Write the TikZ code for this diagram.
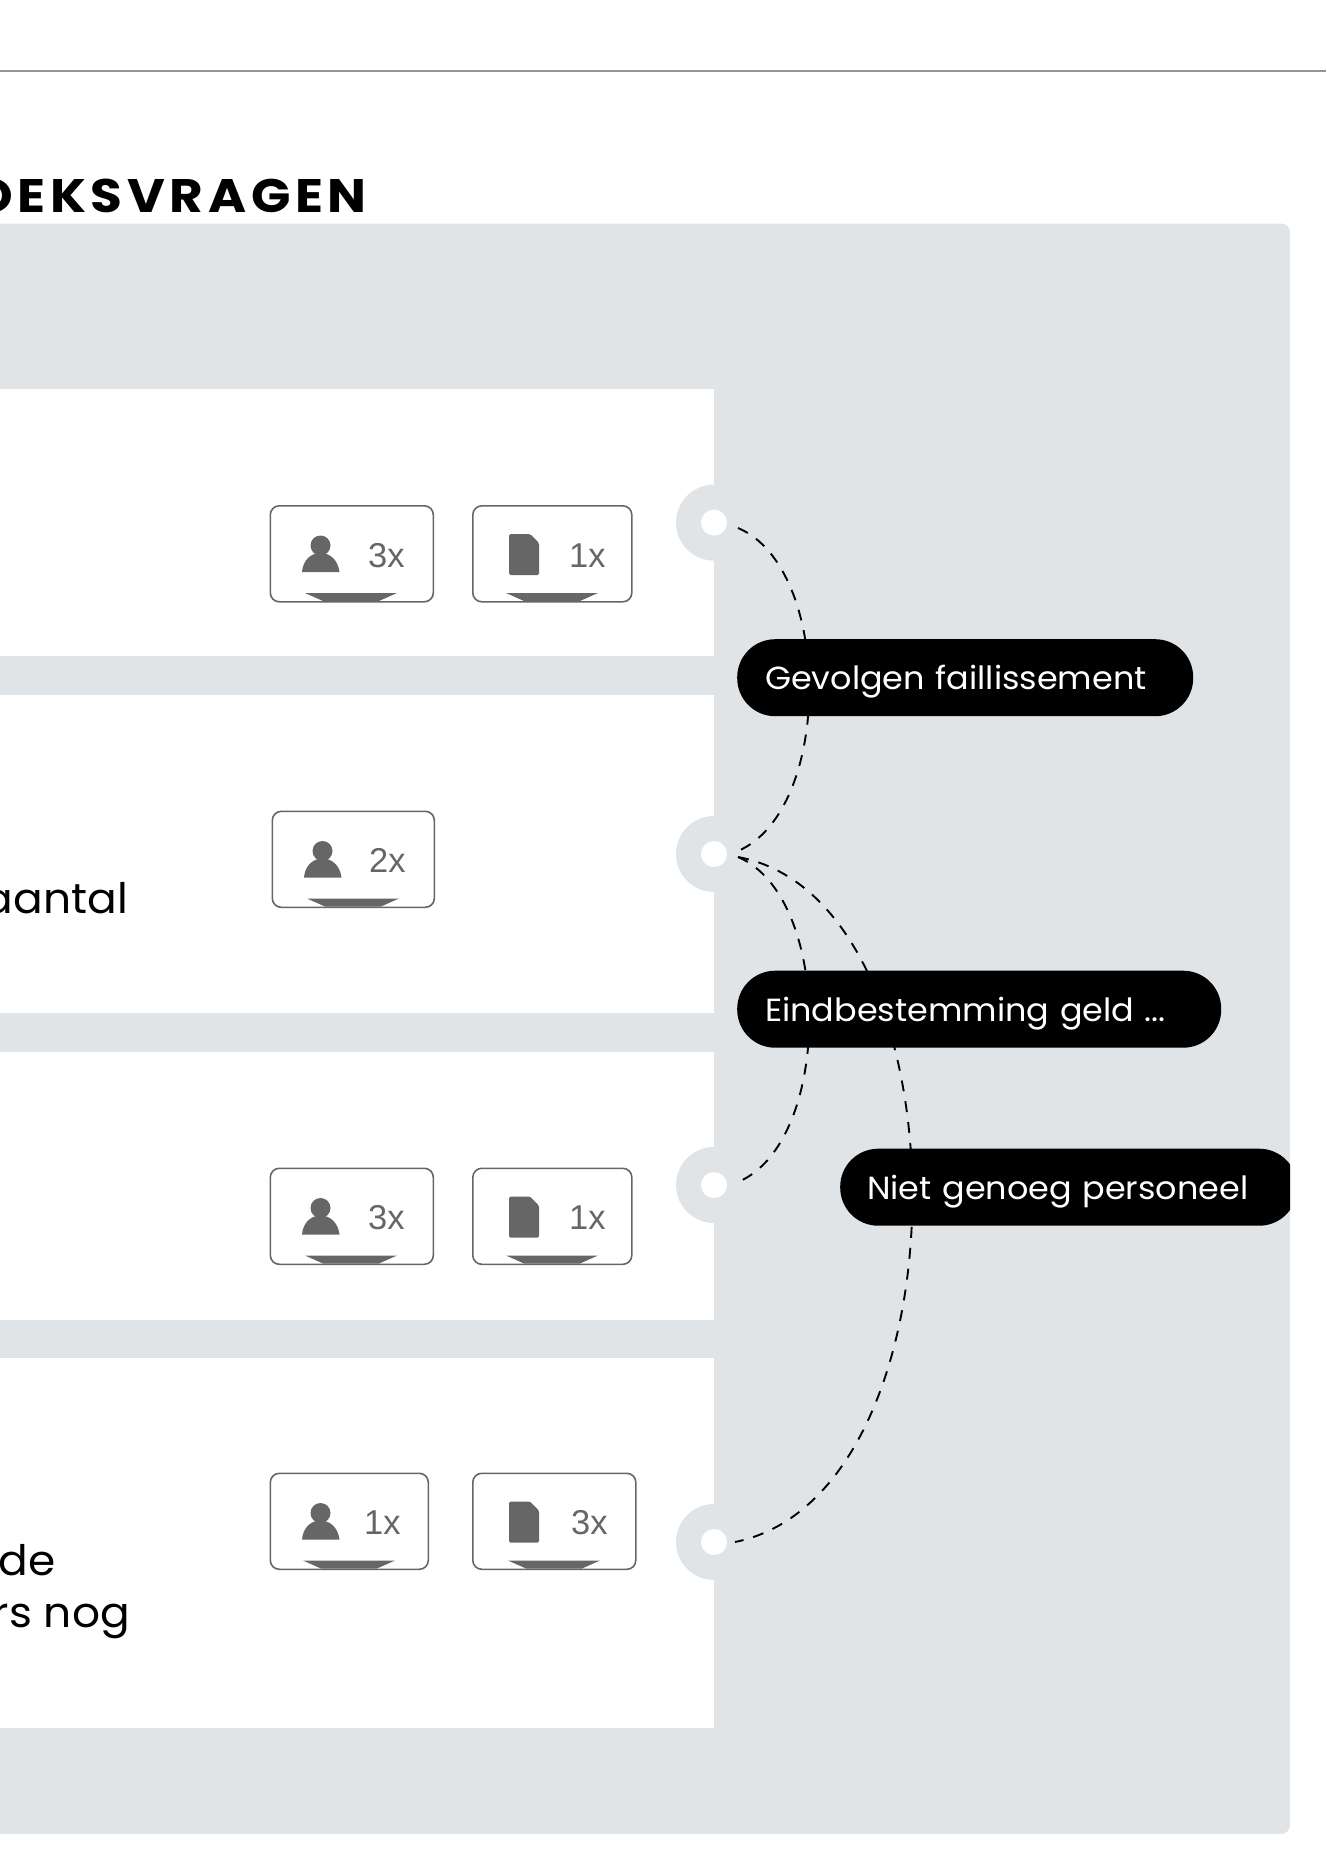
\documentclass[tikz,border=0pt]{standalone}
\usepackage{fontspec}
\setmainfont{Poppins}
\newfontfamily\titlefont[LetterSpace=10,FakeStretch=1.1]{Poppins}
\newfontfamily\pillfont[FakeStretch=1.045]{Poppins}
\newfontfamily\numfont{Liberation Sans}
\usetikzlibrary{calc}
\definecolor{panelc}{HTML}{E1E4E7}
\definecolor{iconc}{HTML}{666666}
\tikzset{
  x=1pt,y=-1pt,
  halo/.style={circle,fill=panelc,minimum size=76pt,inner sep=0pt},
  hole/.style={circle,fill=white,minimum size=26pt,inner sep=0pt},
  card/.style={fill=white},
  badge/.style={draw=iconc,line width=1.6pt,rounded corners=9pt,fill=white,inner sep=0pt,anchor=north west},
  icon/.style={fill=iconc},
  count/.style={anchor=base west,inner sep=0pt,text=iconc,font=\numfont\fontsize{34.5}{36}\selectfont},
  pill/.style={fill=black,text=white,rounded corners=38pt,minimum height=77pt,inner ysep=0pt,inner xsep=28pt,
     anchor=north west,align=left,text height=28pt,text depth=4pt,font=\pillfont\fontsize{32}{36}\selectfont},
  link/.style={draw=black,line width=1.9pt,dash pattern=on 11pt off 10pt},
  body/.style={anchor=base east,inner sep=0pt,text=black,font=\pillfont\fontsize{42}{50}\selectfont},
}
\newcommand{\personicon}[2]{%
  \fill[icon] (#1+18.5,#2+40.5) circle (10);
  \fill[icon] (#1,#2+67) .. controls (#1+1,#2+55) and (#1+9,#2+48) .. (#1+18.5,#2+48)
     .. controls (#1+28,#2+48) and (#1+36,#2+55) .. (#1+37.5,#2+67) -- cycle;
}
\newcommand{\docicon}[2]{%
  \fill[icon,rounded corners=1.5pt] (#1,#2+29) -- (#1+21,#2+29) -- (#1+30,#2+38) -- (#1+30,#2+70) -- (#1,#2+70) -- cycle;
}
\newcommand{\wedgemark}[2]{%
  \fill[icon] (#1-46,#2+88) -- (#1+46,#2+88) -- (#1+28,#2+96) -- (#1-28,#2+96) -- cycle;
}
\begin{document}
\begin{tikzpicture}
\useasboundingbox (0,0) rectangle (1326,1854);
\clip (0,0) rectangle (1326,1854);
\fill[white] (0,0) rectangle (1326,1854);
% top rule
\coordinate (ruleL) at (0,71);
\coordinate (ruleR) at (1326,71);
\draw[color=black!42,line width=1.5pt] (ruleL) -- (ruleR);
% title
\node[anchor=base east,inner sep=0pt,font=\titlefont\bfseries\fontsize{47}{50}\selectfont] (title) at (367,212) {OEKSVRAGEN};
% panel
\fill[panelc,rounded corners=9pt] (-30,223.5) rectangle (1290,1834);
% cards
\fill[card] (-5,389) rectangle (714,656);
\fill[card] (-5,695) rectangle (714,1013);
\fill[card] (-5,1052) rectangle (714,1319.5);
\fill[card] (-5,1357.5) rectangle (714,1728);
% left text fragments
\node[body] (t1) at (128,913) {aantal};
\node[body] (t2) at (56,1575) {de};
\node[body] (t3) at (130,1627) {rs nog};
% dots
\foreach \n/\yy in {1/522.6,2/854,3/1185,4/1542}{
  \node[halo] (h\n) at (714,\yy) {};
  \node[hole] (d\n) at (714,\yy) {};
}
% connectors
\coordinate (a1) at (738,528);
\coordinate (a2) at (738,851);
\coordinate (b2) at (738,857);
\coordinate (b3) at (738,1182);
\coordinate (c2) at (738,857);
\coordinate (c4) at (735,1542);
\path[link] (a1) .. controls (833,568) and (833,810) .. (a2);
\path[link] (b2) .. controls (833,897) and (833,1142) .. (b3);
\path[link] (c2) .. controls (971,900) and (971,1494) .. (c4);
% pills
\node[pill,text width=400pt] (p1) at (737,639) {Gevolgen faillissement};
\node[pill,text width=428pt] (p2) at (737,970.5) {Eindbestemming geld ...};
\begin{scope}
\clip (800,1100) rectangle (1290,1300);
\node[pill,text width=403pt,inner xsep=27pt] (p3) at (840,1148.5) {Niet genoeg personeel};
\end{scope}
% badges: row 1
\node[badge,minimum width=163pt,minimum height=96pt] (r1a) at (269.5,505) {};
\node[badge,minimum width=159pt,minimum height=96pt] (r1b) at (472,505) {};
\personicon{302}{505}\node[count] (r1an) at (368,567) {3x};\wedgemark{351}{505}
\docicon{509}{505}\node[count] (r1bn) at (569,567) {1x};\wedgemark{552}{505}
% row 2
\node[badge,minimum width=162pt,minimum height=96pt] (r2a) at (271.5,810.5) {};
\personicon{304}{810.5}\node[count] (r2an) at (369,872) {2x};\wedgemark{353}{810.5}
% row 3
\node[badge,minimum width=163pt,minimum height=96pt] (r3a) at (269.5,1167.5) {};
\node[badge,minimum width=159pt,minimum height=96pt] (r3b) at (472,1167.5) {};
\personicon{302}{1167.5}\node[count] (r3an) at (368,1229) {3x};\wedgemark{351}{1167.5}
\docicon{509}{1167.5}\node[count] (r3bn) at (569,1229) {1x};\wedgemark{552}{1167.5}
% row 4
\node[badge,minimum width=158pt,minimum height=96pt] (r4a) at (269.5,1472.5) {};
\node[badge,minimum width=163pt,minimum height=96pt] (r4b) at (472,1472.5) {};
\personicon{302}{1472.5}\node[count] (r4an) at (364,1534) {1x};\wedgemark{349}{1472.5}
\docicon{509}{1472.5}\node[count] (r4bn) at (571,1534) {3x};\wedgemark{554}{1472.5}
\end{tikzpicture}
\end{document}
